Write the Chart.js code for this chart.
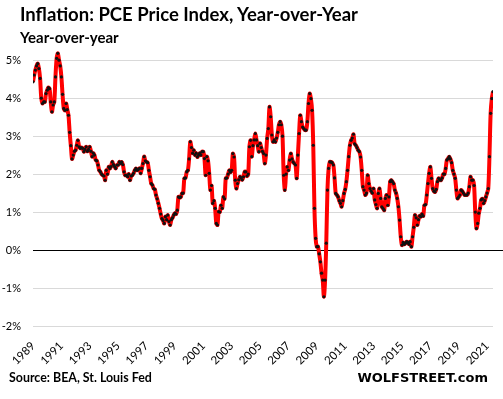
<!DOCTYPE html>
<html>
<head>
<meta charset="utf-8">
<script src="https://cdn.jsdelivr.net/npm/chart.js@4"></script>
<style>
    body { margin: 0; background: #fff; }
    #wrap { position: relative; width: 503px; height: 399px; overflow: hidden; }
    #myChart { position: absolute; left: 0; top: 0; }
    .txt { position: absolute; white-space: nowrap; font-weight: bold; color: #000; line-height: 1; }
    #title { left: 20px; top: 5px; font-family: "Lato"; font-size: 18.5px; }
    #subtitle { left: 20px; top: 30px; font-family: "Lato"; font-size: 15px; }
    #source { left: 9px; top: 372px; font-family: "Lato"; font-size: 12.4px; }
    #brand { right: 15px; top: 371px; font-family: "DejaVu Sans"; font-size: 13px; }
</style>
</head>
<body>
<div id="wrap">
    <canvas id="myChart" width="503" height="399"></canvas>
    <div class="txt" id="title">Inflation: PCE Price Index, Year-over-Year</div>
    <div class="txt" id="subtitle">Year-over-year</div>
    <div class="txt" id="source">Source: BEA, St. Louis Fed</div>
    <div class="txt" id="brand">WOLFSTREET.com</div>
</div>
<script>
// monthly PCE price index, % change year-over-year, Jan 1989 - Jun 2021
var startYear = 1989;

var pce1989to1994 = [
    4.43, 4.61, 4.74, 4.85, 4.91, 4.78, 4.52, 4.0, 3.86, 3.9, 3.9, 4.12,     // 1989
    4.21, 4.28, 4.25, 3.9, 3.64, 3.82, 3.9, 4.56, 5.05, 5.18, 5.0, 4.85,     // 1990
    4.56, 4.1, 3.73, 3.68, 3.86, 3.7, 3.55, 3.1, 2.75, 2.4, 2.5, 2.6,        // 1991
    2.63, 2.76, 2.89, 2.72, 2.68, 2.7, 2.68, 2.59, 2.65, 2.72, 2.6, 2.65,    // 1992
    2.72, 2.6, 2.46, 2.55, 2.5, 2.37, 2.35, 2.24, 2.1, 2.06, 2.0, 1.97,      // 1993
    1.95, 1.84, 2.1, 2.0, 2.19, 2.15, 2.2, 2.32, 2.25, 2.2, 2.15, 2.24       // 1994
];
var pce1995to2000 = [
    2.24, 2.32, 2.28, 2.32, 2.25, 2.06, 1.97, 1.97, 1.93, 2.0, 1.84, 1.95,   // 1995
    1.97, 2.02, 2.1, 2.15, 2.1, 2.12, 2.15, 2.02, 2.15, 2.28, 2.46, 2.35,    // 1996
    2.32, 2.3, 2.1, 1.93, 1.75, 1.71, 1.62, 1.6, 1.45, 1.35, 1.23, 1.1,      // 1997
    0.95, 0.83, 0.78, 0.7, 0.88, 0.8, 0.92, 0.75, 0.66, 0.8, 0.85, 0.92,     // 1998
    0.97, 0.95, 1.05, 1.4, 1.38, 1.4, 1.49, 1.5, 1.89, 1.9, 2.06, 2.1,       // 1999
    2.4, 2.85, 2.7, 2.55, 2.63, 2.5, 2.55, 2.45, 2.5, 2.55, 2.5, 2.59        // 2000
];
var pce2001to2006 = [
    2.59, 2.41, 1.97, 2.46, 2.35, 2.02, 1.58, 1.7, 1.23, 1.3, 1.1, 0.7,      // 2001
    0.66, 1.01, 1.0, 1.18, 1.1, 1.4, 1.35, 1.89, 1.9, 2.0, 2.1, 2.05,        // 2002
    2.1, 2.54, 2.45, 1.84, 1.62, 1.75, 1.85, 1.93, 1.9, 1.85, 1.93, 2.06,    // 2003
    2.06, 1.95, 2.0, 2.72, 2.89, 2.46, 2.75, 2.9, 3.07, 2.9, 2.75, 2.59,     // 2004
    2.81, 2.7, 2.6, 2.54, 2.28, 2.5, 2.94, 3.2, 3.77, 3.51, 3.03, 2.85,      // 2005
    2.9, 2.85, 2.95, 3.1, 3.3, 3.38, 3.3, 3.0, 1.97, 1.58, 2.0, 2.19         // 2006
];
var pce2007to2012 = [
    2.1, 2.37, 2.54, 2.4, 2.32, 2.28, 2.24, 1.89, 2.5, 3.07, 3.55, 3.38,     // 2007
    3.24, 3.2, 3.16, 3.16, 3.38, 3.86, 4.12, 3.99, 3.68, 2.76, 1.1, 0.31,    // 2008
    0.09, 0.09, -0.1, -0.31, -0.61, -0.79, -1.23, -0.79, 0.18, 1.58, 2.15, 2.32, // 2009
    2.32, 2.3, 2.24, 1.9, 1.49, 1.45, 1.4, 1.3, 1.23, 1.14, 1.3, 1.49,       // 2010
    1.6, 1.8, 2.1, 2.46, 2.76, 2.89, 2.95, 3.05, 2.8, 2.76, 2.7, 2.63,       // 2011
    2.59, 2.45, 2.1, 1.67, 1.58, 1.45, 1.5, 1.97, 1.75, 1.62, 1.55, 1.5      // 2012
];
var pce2013to2021 = [
    1.62, 1.32, 1.2, 1.1, 1.49, 1.62, 1.36, 1.14, 1.1, 1.05, 1.36, 1.45,     // 2013
    1.18, 1.4, 1.8, 1.84, 1.8, 1.75, 1.58, 1.5, 1.36, 1.14, 0.79, 0.35,      // 2014
    0.13, 0.2, 0.15, 0.18, 0.22, 0.2, 0.15, 0.22, 0.09, 0.35, 0.6, 0.92,     // 2015
    0.85, 0.66, 0.8, 0.9, 0.88, 0.95, 0.9, 1.18, 1.2, 1.45, 1.75, 2.02,      // 2016
    2.19, 1.89, 1.62, 1.55, 1.53, 1.6, 1.8, 1.89, 1.85, 1.84, 1.9, 2.0,      // 2017
    2.0, 2.15, 2.37, 2.41, 2.46, 2.4, 2.3, 2.1, 2.0, 1.89, 1.58, 1.36,       // 2018
    1.4, 1.45, 1.58, 1.55, 1.5, 1.45, 1.45, 1.45, 1.5, 1.67, 1.93, 1.84,     // 2019
    1.84, 1.7, 1.0, 0.57, 0.7, 0.97, 1.1, 1.32, 1.35, 1.23, 1.3, 1.4,        // 2020
    1.5, 1.62, 2.46, 3.6, 3.99, 4.17                                         // 2021
];

var tickYears = [1989, 1991, 1993, 1995, 1997, 1999, 2001, 2003, 2005, 2007, 2009, 2011, 2013, 2015, 2017, 2019, 2021];
var yTicks = [-2, -1, 0, 1, 2, 3, 4, 5];

var pce = [].concat(pce1989to1994, pce1995to2000, pce2001to2006, pce2007to2012, pce2013to2021);

// one point per month, x in fractional years
var points = pce.map(function (v, i) {
    return { x: startYear + i / 12, y: v };
});

// black 0% line, runs past the plot to the right edge like the original
var zeroLine = {
    id: 'zeroLine',
    beforeDatasetsDraw: function (chart) {
        var ctx = chart.ctx;
        var y = Math.round(chart.scales.y.getPixelForValue(0)) + 0.5;
        ctx.save();
        ctx.strokeStyle = '#000';
        ctx.lineWidth = 1;
        ctx.beginPath();
        ctx.moveTo(chart.chartArea.left, y);
        ctx.lineTo(chart.width, y);
        ctx.stroke();
        ctx.restore();
    }
};

var ctx = document.getElementById('myChart').getContext('2d');
var myChart = new Chart(ctx, {
    type: 'line',
    data: {
        datasets: [{
            data: points,
            borderColor: '#ff0000',
            borderWidth: 4,
            tension: 0.3,
            pointRadius: 1.6,
            pointBorderWidth: 0,
            pointBackgroundColor: '#111',
            fill: false
        }]
    },
    options: {
        responsive: false,
        animation: false,
        devicePixelRatio: 1,
        layout: { padding: { top: 45, right: 10, left: 0, bottom: 0 } },
        plugins: {
            legend: { display: false },
            tooltip: { enabled: false }
        },
        scales: {
            x: {
                type: 'linear',
                min: startYear,
                max: startYear + (pce.length - 1) / 12,
                grid: { display: false },
                border: { display: false },
                afterBuildTicks: function (scale) {
                    scale.ticks = tickYears.map(function (y) { return { value: y }; });
                },
                afterFit: function (scale) { scale.height = 73; },
                ticks: {
                    autoSkip: false,
                    maxRotation: 45,
                    minRotation: 45,
                    padding: 5,
                    color: '#000',
                    font: { family: 'Lato', size: 11.5 },
                    callback: function (v) { return String(v); }
                }
            },
            y: {
                min: -2,
                max: 5.4,
                afterBuildTicks: function (scale) {
                    scale.ticks = yTicks.map(function (v) { return { value: v }; });
                },
                afterFit: function (scale) { scale.width = 33; },
                grid: {
                    color: function (c) { return c.tick && c.tick.value === 0 ? '#000' : '#d9d9d9'; },
                    drawTicks: false
                },
                border: { display: false },
                ticks: {
                    padding: 12,
                    color: '#000',
                    font: { family: 'Lato', size: 11 },
                    callback: function (v) { return v + '%'; }
                }
            }
        }
    },
    plugins: [zeroLine]
});
</script>
</body>
</html>
